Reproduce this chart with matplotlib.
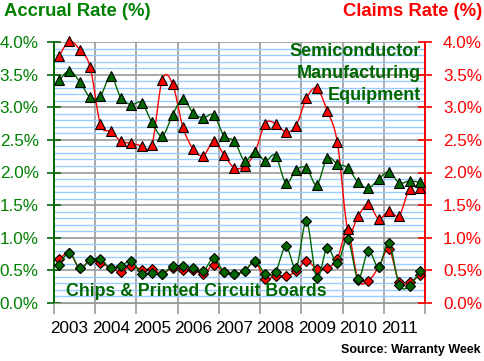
import numpy as np
import matplotlib
matplotlib.use("Agg")
import matplotlib.pyplot as plt
from matplotlib.ticker import MultipleLocator, FixedLocator, NullFormatter

years = ["2003", "2004", "2005", "2006", "2007", "2008", "2009", "2010", "2011"]

semi_accrual = [3.41, 3.56, 3.39, 3.15, 3.17, 3.48, 3.14, 3.04, 3.07, 2.77, 2.56, 2.88,
                3.13, 2.91, 2.84, 2.88, 2.56, 2.48, 2.18, 2.32, 2.18, 2.26, 1.84, 2.04,
                2.07, 1.81, 2.22, 2.13, 2.07, 1.85, 1.76, 1.90, 2.01, 1.84, 1.87, 1.85]
semi_claims = [3.79, 4.01, 3.88, 3.62, 2.74, 2.63, 2.48, 2.45, 2.41, 2.42, 3.42, 3.36,
               2.70, 2.36, 2.26, 2.48, 2.27, 2.07, 2.10, 2.31, 2.75, 2.75, 2.62, 2.72,
               3.14, 3.29, 2.95, 2.46, 1.13, 1.33, 1.52, 1.29, 1.41, 1.34, 1.75, 1.77]
chips_accrual = [0.59, 0.77, 0.53, 0.66, 0.67, 0.53, 0.57, 0.64, 0.45, 0.46, 0.44, 0.57,
                 0.56, 0.54, 0.49, 0.69, 0.47, 0.45, 0.49, 0.64, 0.45, 0.48, 0.87, 0.54,
                 1.25, 0.38, 0.85, 0.61, 0.98, 0.37, 0.80, 0.55, 0.92, 0.28, 0.26, 0.49]
chips_claims = [0.67, 0.77, 0.53, 0.66, 0.61, 0.54, 0.48, 0.57, 0.51, 0.52, 0.45, 0.54,
                0.51, 0.51, 0.45, 0.59, 0.47, 0.45, 0.49, 0.63, 0.37, 0.42, 0.41, 0.49,
                0.65, 0.52, 0.53, 0.68, 1.10, 0.36, 0.34, 0.55, 0.82, 0.32, 0.32, 0.43]

GREEN = "#006600"
TGREEN = "#008000"
RED = "#FF0000"


def smooth(y, n=16):
    x = np.arange(len(y)) + 0.5
    p = np.column_stack([x, np.asarray(y, float)])
    out = []
    for i in range(len(p) - 1):
        p0 = p[i - 1] if i > 0 else p[i]
        p1 = p[i]
        p2 = p[i + 1]
        p3 = p[i + 2] if i + 2 < len(p) else p[i + 1]
        c1 = p1 + (p2 - p0) / 6.0
        c2 = p2 - (p3 - p1) / 6.0
        t = np.linspace(0, 1, n)[:, None]
        seg = ((1 - t) ** 3) * p1 + 3 * ((1 - t) ** 2) * t * c1 + 3 * (1 - t) * t ** 2 * c2 + t ** 3 * p2
        out.append(seg if i == 0 else seg[1:])
    s = np.vstack(out)
    return s[:, 0], s[:, 1]


plt.rcParams['font.family'] = ['Liberation Sans', 'DejaVu Sans']
fig = plt.figure(figsize=(4.84, 3.61), dpi=100)
ax = fig.add_axes([54 / 484, 1 - 303 / 361, (425 - 54) / 484, (303 - 42) / 361])
ax.set_xlim(0, 36)
ax.set_ylim(0, 4.0)

# grid
ax.yaxis.set_minor_locator(MultipleLocator(0.1))
ax.yaxis.set_major_locator(MultipleLocator(0.5))
ax.grid(which='minor', axis='y', color='#99CCFF', lw=1.0, zorder=0)
ax.grid(which='major', axis='y', color='#999999', lw=1.2, zorder=0.5)
ax.xaxis.set_major_locator(FixedLocator(np.arange(0, 37, 4)))
ax.grid(which='major', axis='x', color='#999999', lw=1.2, zorder=0.5)
ax.xaxis.set_major_formatter(NullFormatter())
ax.xaxis.set_minor_locator(FixedLocator(np.arange(9) * 4 + 1.5))
ax.set_xticklabels(years, minor=True)
ax.tick_params(axis='x', which='major', length=8, color='#999999', width=1.2, direction='out')
ax.tick_params(axis='x', which='minor', length=0, pad=13, labelsize=12.3, labelcolor='black')

ax.set_yticks(np.arange(0, 4.01, 0.5))
ax.set_yticklabels([f"{v:.1f}%" for v in np.arange(0, 4.01, 0.5)])
ax.tick_params(axis='y', which='major', length=10, direction='inout', color=GREEN, width=1.2,
               labelsize=12.3, labelcolor=TGREEN, pad=6)
ax.tick_params(axis='y', which='minor', length=0)

ax.spines['left'].set_color(GREEN)
ax.spines['left'].set_linewidth(1.4)
ax.spines['bottom'].set_color('#999999')
ax.spines['top'].set_visible(False)
ax.spines['right'].set_visible(False)

ax2 = ax.twinx()
ax2.set_ylim(0, 4.0)
ax2.set_yticks(np.arange(0, 4.01, 0.5))
ax2.set_yticklabels([f"{v:.1f}%" for v in np.arange(0, 4.01, 0.5)])
ax2.tick_params(axis='y', length=10, direction='inout', color=RED, width=1.2,
                labelsize=12.3, labelcolor=RED, pad=8)
for s in ['left', 'top', 'bottom']:
    ax2.spines[s].set_visible(False)
ax2.spines['right'].set_color(RED)
ax2.spines['right'].set_linewidth(1.4)
ax2.set_zorder(ax.get_zorder() + 1)
ax2.patch.set_visible(False)

x = np.arange(36) + 0.5
series = [
    (chips_claims, RED, 'D', 5.0),
    (chips_accrual, GREEN, 'D', 5.0),
    (semi_claims, RED, '^', 6.5),
    (semi_accrual, GREEN, '^', 6.5),
]
for z, (vals, col, mk, ms) in enumerate(series):
    sx, sy = smooth(vals)
    ax2.plot(sx, sy, color=col, lw=1.0, zorder=3 + z, clip_on=False)
    ax2.plot(x, vals, linestyle='none', marker=mk, ms=ms, mfc=col, mec='black', mew=0.8,
             zorder=3 + z, clip_on=False)

# labels
fig.text(4 / 484, 1 - 12 / 361, "Accrual Rate (%)", color=TGREEN, fontsize=13.3, fontweight='bold',
         ha='left', va='center')
fig.text(482 / 484, 1 - 12 / 361, "Claims Rate (%)", color=RED, fontsize=13.3, fontweight='bold',
         ha='right', va='center')
for txt, yy in [("Semiconductor", 52), ("Manufacturing", 74), ("Equipment", 96)]:
    fig.text(421 / 484, 1 - yy / 361, txt, color=GREEN, fontsize=13.0, fontweight='bold',
             ha='right', va='center')
fig.text(66 / 484, 1 - 292 / 361, "Chips & Printed Circuit Boards", color=GREEN, fontsize=12.8,
         fontweight='bold', ha='left', va='center')
fig.text(481 / 484, 1 - 350 / 361, "Source: Warranty Week", color='black', fontsize=9,
         fontweight='bold', ha='right', va='center')

fig.savefig("out.png", dpi=100)
